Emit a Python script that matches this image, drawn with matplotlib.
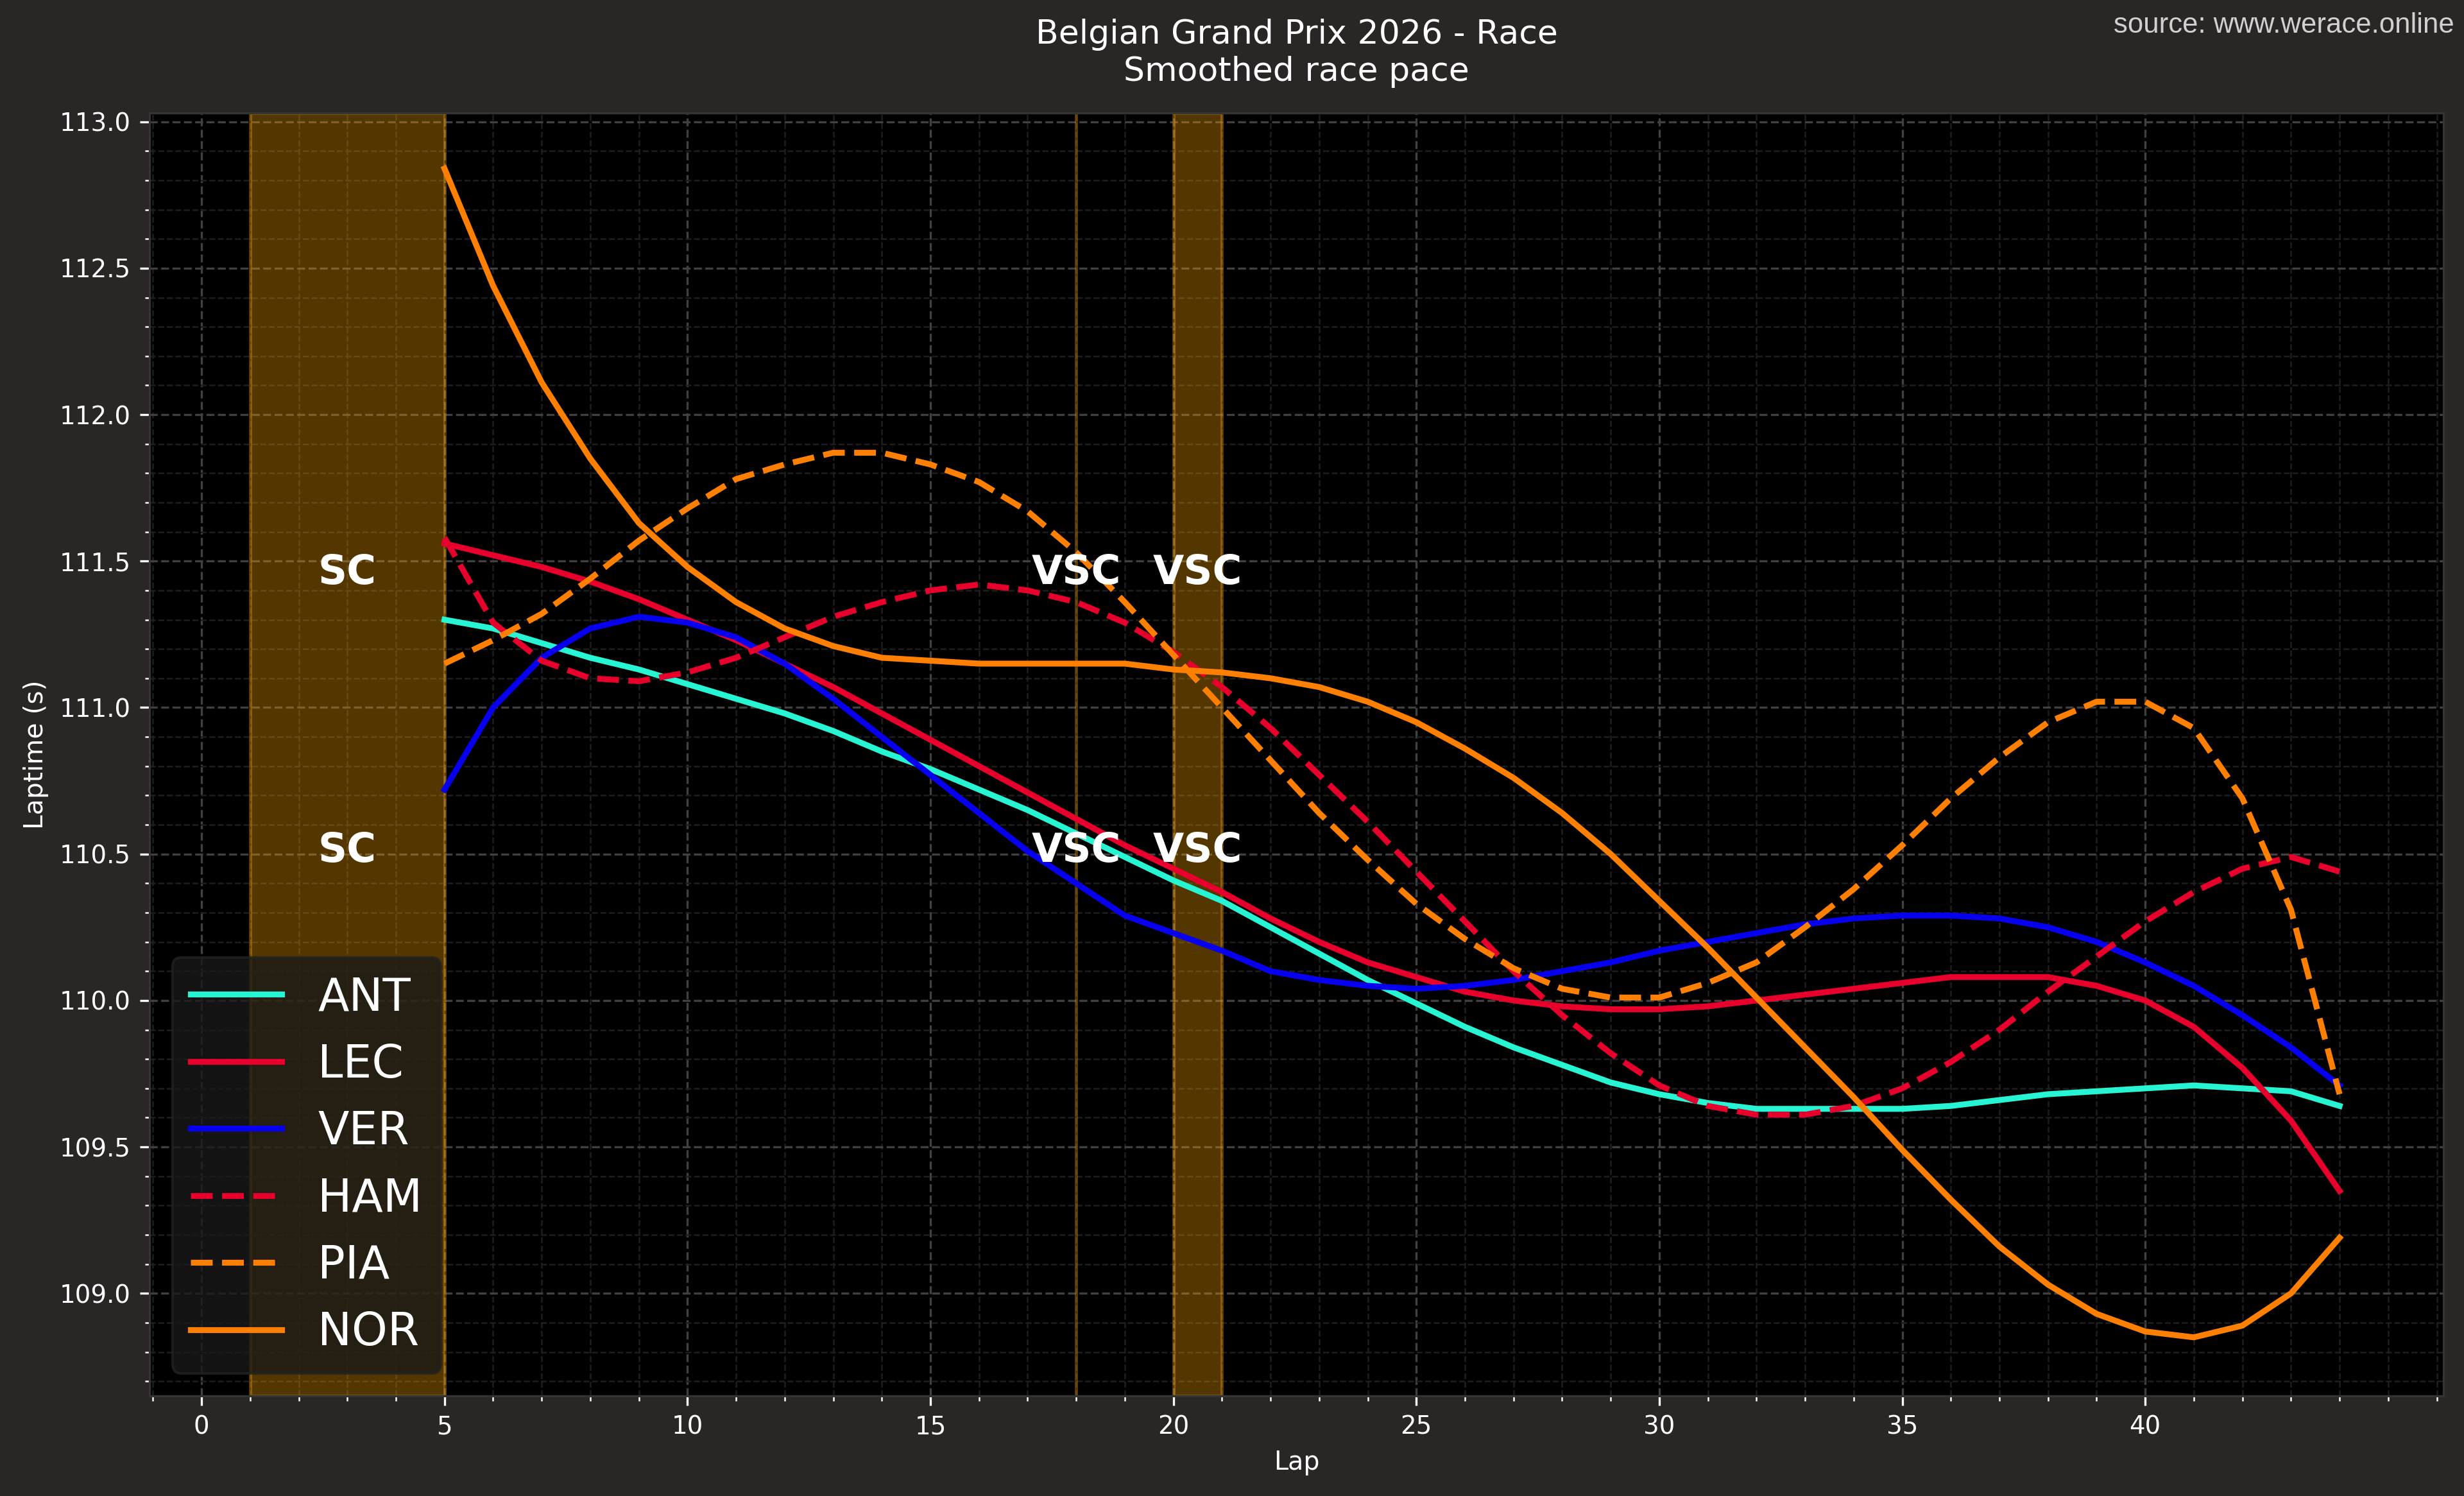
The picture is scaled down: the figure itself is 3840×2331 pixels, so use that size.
import matplotlib
matplotlib.use("Agg")
import matplotlib.pyplot as plt
from matplotlib.ticker import MultipleLocator

# smoothed lap times per driver, laps 5..44
laps = list(range(5, 45))

ant = [111.30, 111.27, 111.22, 111.17, 111.13, 111.08, 111.03, 110.98, 110.92, 110.85,
       110.79, 110.72, 110.65, 110.57, 110.49, 110.41, 110.34, 110.25, 110.16, 110.07,
       109.99, 109.91, 109.84, 109.78, 109.72, 109.68, 109.65, 109.63, 109.63, 109.63,
       109.63, 109.64, 109.66, 109.68, 109.69, 109.70, 109.71, 109.70, 109.69, 109.64]
lec = [111.56, 111.52, 111.48, 111.43, 111.37, 111.30, 111.23, 111.15, 111.07, 110.98,
       110.89, 110.80, 110.71, 110.62, 110.53, 110.45, 110.37, 110.28, 110.20, 110.13,
       110.08, 110.03, 110.00, 109.98, 109.97, 109.97, 109.98, 110.00, 110.02, 110.04,
       110.06, 110.08, 110.08, 110.08, 110.05, 110.00, 109.91, 109.77, 109.59, 109.35]
ver = [110.72, 111.00, 111.17, 111.27, 111.31, 111.29, 111.24, 111.15, 111.03, 110.90,
       110.77, 110.64, 110.51, 110.40, 110.29, 110.23, 110.17, 110.10, 110.07, 110.05,
       110.04, 110.05, 110.07, 110.10, 110.13, 110.17, 110.20, 110.23, 110.26, 110.28,
       110.29, 110.29, 110.28, 110.25, 110.20, 110.13, 110.05, 109.95, 109.84, 109.71]
ham = [111.58, 111.29, 111.16, 111.10, 111.09, 111.12, 111.17, 111.24, 111.31, 111.36,
       111.40, 111.42, 111.40, 111.36, 111.29, 111.19, 111.07, 110.93, 110.77, 110.61,
       110.44, 110.27, 110.10, 109.95, 109.82, 109.71, 109.64, 109.61, 109.61, 109.64,
       109.70, 109.79, 109.90, 110.03, 110.15, 110.27, 110.37, 110.45, 110.49, 110.44]
pia = [111.15, 111.23, 111.32, 111.44, 111.57, 111.68, 111.78, 111.83, 111.87, 111.87,
       111.83, 111.77, 111.67, 111.53, 111.36, 111.18, 111.00, 110.82, 110.64, 110.48,
       110.33, 110.21, 110.11, 110.04, 110.01, 110.01, 110.06, 110.13, 110.25, 110.38,
       110.53, 110.69, 110.83, 110.95, 111.02, 111.02, 110.93, 110.69, 110.31, 109.68]
nor = [112.84, 112.44, 112.11, 111.85, 111.63, 111.48, 111.36, 111.27, 111.21, 111.17,
       111.16, 111.15, 111.15, 111.15, 111.15, 111.13, 111.12, 111.10, 111.07, 111.02,
       110.95, 110.86, 110.76, 110.64, 110.50, 110.34, 110.18, 110.01, 109.84, 109.67,
       109.49, 109.32, 109.16, 109.03, 108.93, 108.87, 108.85, 108.89, 109.00, 109.19]

drivers = ["ANT", "LEC", "VER", "HAM", "PIA", "NOR"]
series = [ant, lec, ver, ham, pia, nor]
colors = ["#27f4d2", "#e8002d", "#0600ef", "#e8002d", "#ff8000", "#ff8000"]
styles = ["-", "-", "-", "--", "--", "-"]

# track status periods (start lap, end lap, label)
periods = [(1, 5, "SC"), (18, 18, "VSC"), (20, 21, "VSC")]

bg = "#292625"
fig, ax = plt.subplots(figsize=(12.8, 7.77), dpi=300)
fig.patch.set_facecolor(bg)
ax.set_facecolor("black")
fig.subplots_adjust(left=0.0607, right=0.9917, top=0.9245, bottom=0.0669)

ax.set_axisbelow(True)
ax.grid(which="major", color="#404040", linestyle="--", linewidth=0.8)
ax.grid(which="minor", color="#1e1e1e", linestyle="--", linewidth=0.6)

for start, end, label in periods:
    ax.axvspan(start, end, color="orange", alpha=0.33, linewidth=1.2)
    for yy in (111.46, 110.51):
        ax.text((start + end) / 2, yy, label, color="white", fontsize=15,
                fontweight="bold", ha="center", va="center")

for name, vals, c, ls in zip(drivers, series, colors, styles):
    ax.plot(laps, vals, color=c, linestyle=ls, linewidth=2.2, label=name)

ax.set_xlim(-1.07, 46.14)
ax.set_ylim(108.65, 113.03)
ax.xaxis.set_major_locator(MultipleLocator(5))
ax.xaxis.set_minor_locator(MultipleLocator(1))
ax.yaxis.set_major_locator(MultipleLocator(0.5))
ax.yaxis.set_minor_locator(MultipleLocator(0.1))
ax.set_xticks(range(0, 45, 5))
ax.tick_params(which="both", colors="white", labelsize=9.3)
ax.tick_params(which="major", length=3.5)
ax.tick_params(which="minor", length=1.8)
for s in ax.spines.values():
    s.set_color("#333333")

ax.set_xlabel("Lap", color="white", fontsize=9.5)
ax.set_ylabel("Laptime (s)", color="white", fontsize=9.8)
ax.set_title("Belgian Grand Prix 2026 - Race\nSmoothed race pace", color="white",
             fontsize=12.5, pad=12)
fig.text(0.996, 0.992, "source: www.werace.online", color="#d0d0d0", fontsize=10.5,
         family=["Liberation Sans", "DejaVu Sans"], ha="right", va="top")

leg = ax.legend(loc="lower left", fontsize=17, facecolor="#191919", framealpha=0.8,
                edgecolor="#222222", labelspacing=0.5)
for t in leg.get_texts():
    t.set_color("white")

fig.savefig("out.png", dpi=300, facecolor=bg)
